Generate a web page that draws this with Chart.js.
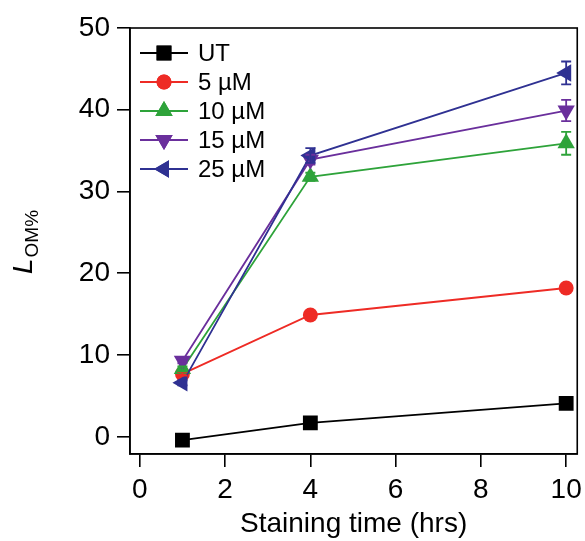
<!DOCTYPE html>
<html>
<head>
<meta charset="utf-8">
<script src="https://cdn.jsdelivr.net/npm/chart.js@4"></script>
<style>
  html, body { margin: 0; padding: 0; background: #fff; overflow: hidden; }
  /* slightly wider than the window: the last x label padding eats ~11px on the right */
  #wrap { width: 588px; height: 541px; }
  canvas { display: block; }
</style>
</head>
<body>
<div id="wrap"><canvas id="lomChart"></canvas></div>
<script>
const times = [1, 4, 10];
const labels = ['UT', '5 µM', '10 µM', '15 µM', '25 µM'];
const ut = [-0.4, 1.7, 4.1];
const conc5 = [7.7, 14.9, 18.2];
const conc10 = [8.3, 31.8, 35.9];
const conc15 = [9.3, 33.9, 39.9];
const conc25 = [6.6, 34.4, 44.5];
const err5 = [0.2, 0.3, 0.3];
const err10 = [0.3, 0.5, 1.4];
const err15 = [0.3, 0.6, 1.3];
const err25 = [0.3, 0.9, 1.4];
const errUT = [0.2, 0.2, 0.3];
const xTicks = [0, 2, 4, 6, 8, 10];
const yTicks = [0, 10, 20, 30, 40, 50];

const colors = ['#000000', '#ee2b25', '#2ea33a', '#6a2f9c', '#2f3192'];
const styles = ['rect', 'circle', 'triangle', 'triangle', 'triangle'];
const rotations = [0, 0, 0, 180, 270];
const radii = [10.5, 7.5, 10, 10, 10];
const series = [ut, conc5, conc10, conc15, conc25];
const errors = [errUT, err5, err10, err15, err25];
const FONT = "'Liberation Sans', Arial, Helvetica, sans-serif";

const datasets = series.map((vals, i) => ({
  label: labels[i],
  data: vals.map((v, j) => ({ x: times[j], y: v })),
  errs: errors[i],
  borderColor: colors[i],
  backgroundColor: colors[i],
  borderWidth: 1.8,
  pointStyle: styles[i],
  pointRotation: rotations[i],
  pointRadius: radii[i],
  pointBorderWidth: 0,
  pointHoverRadius: radii[i],
  order: 5 - i,
  tension: 0
}));

// vertical error bars with caps
const errorBars = {
  id: 'errorBars',
  afterDatasetsDraw(chart) {
    const { ctx, scales: { x, y } } = chart;
    ctx.save();
    ctx.lineWidth = 1.8;
    chart.data.datasets.forEach(ds => {
      ctx.strokeStyle = ds.borderColor;
      ds.data.forEach((p, j) => {
        const e = ds.errs[j];
        const px = x.getPixelForValue(p.x);
        const top = y.getPixelForValue(p.y + e);
        const bot = y.getPixelForValue(p.y - e);
        ctx.beginPath();
        ctx.moveTo(px, top); ctx.lineTo(px, bot);
        ctx.moveTo(px - 5, top); ctx.lineTo(px + 5, top);
        ctx.moveTo(px - 5, bot); ctx.lineTo(px + 5, bot);
        ctx.stroke();
      });
    });
    ctx.restore();
  }
};

// box frame, legend inside plot, y title with subscript
const extras = {
  id: 'extras',
  afterDraw(chart) {
    const { ctx, chartArea: a } = chart;
    ctx.save();
    ctx.strokeStyle = '#000';
    ctx.lineWidth = 1.6;
    ctx.strokeRect(a.left, a.top, a.right - a.left, a.bottom - a.top);

    chart.data.datasets.forEach((ds, i) => {
      const yy = 53 + i * 29;
      ctx.strokeStyle = ds.borderColor;
      ctx.lineWidth = 1.8;
      ctx.beginPath();
      ctx.moveTo(140, yy); ctx.lineTo(188, yy);
      ctx.stroke();
      ctx.fillStyle = ds.backgroundColor;
      Chart.helpers.drawPoint(ctx, {
        pointStyle: ds.pointStyle, rotation: ds.pointRotation,
        radius: ds.pointRadius, borderWidth: 0
      }, 164, yy);
      ctx.fill();
      ctx.fillStyle = '#000';
      ctx.font = '24px ' + FONT;
      ctx.textBaseline = 'middle';
      ctx.textAlign = 'left';
      ctx.fillText(ds.label, 198, yy + 1);
    });

    ctx.translate(32, 274);
    ctx.rotate(-Math.PI / 2);
    ctx.fillStyle = '#000';
    ctx.textBaseline = 'alphabetic';
    ctx.textAlign = 'left';
    ctx.font = 'italic 28px ' + FONT;
    ctx.fillText('L', 0, 0);
    const w = ctx.measureText('L').width;
    ctx.font = '19px ' + FONT;
    ctx.fillText('OM%', w + 1, 6);
    ctx.restore();
  }
};

try {
  new Chart(document.getElementById('lomChart').getContext('2d'), {
    type: 'line',
    data: { datasets },
    options: {
      responsive: true,
      maintainAspectRatio: false,
      animation: false,
      layout: { padding: { left: 0, right: 8, top: 28, bottom: 0 } },
      plugins: { legend: { display: false }, tooltip: { enabled: false } },
      scales: {
        x: {
          type: 'linear',
          min: -0.23,
          max: 10.26,
          afterBuildTicks: s => { s.ticks = xTicks.map(v => ({ value: v })); },
          afterFit: s => { s.height = 87; },
          grid: { drawOnChartArea: false, tickLength: 13, color: '#000', lineWidth: 1.6 },
          border: { color: '#000', width: 1.6 },
          ticks: { color: '#000', font: { family: FONT, size: 28 }, padding: 6, maxRotation: 0 },
          title: { display: true, text: 'Staining time (hrs)', color: '#000',
                   font: { family: FONT, size: 28 }, padding: { top: 0, bottom: 0 } }
        },
        y: {
          min: -2.1,
          max: 50,
          afterBuildTicks: s => { s.ticks = yTicks.map(v => ({ value: v })); },
          afterFit: s => { s.width = 130; },
          grid: { drawOnChartArea: false, tickLength: 13, color: '#000', lineWidth: 1.6 },
          border: { color: '#000', width: 1.6 },
          ticks: { color: '#000', font: { family: FONT, size: 28 }, padding: 7 }
        }
      }
    },
    plugins: [errorBars, extras]
  });
} catch (error) {
  console.error('Chart.js Error: ', error);
}
</script>
</body>
</html>
